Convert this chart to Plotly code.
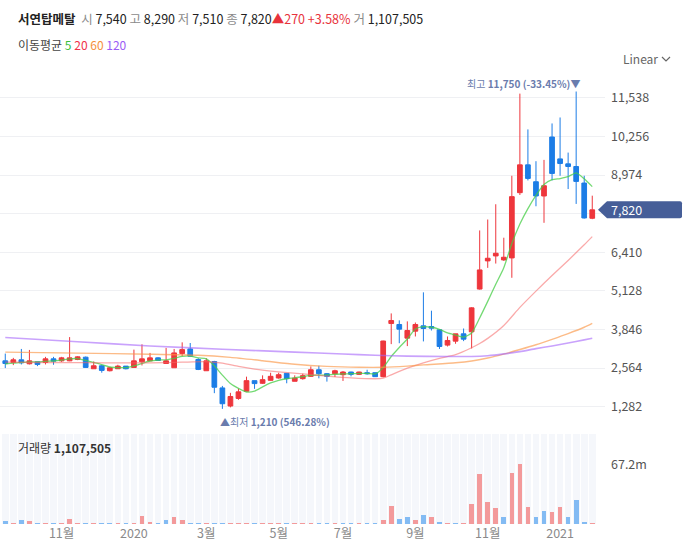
import pandas as pd
import plotly.graph_objects as go

# ---------------- data ----------------
start_date = "2019-09-13"
n_weeks = 74

opens = [2805, 2750, 2838, 2707, 2772, 2750, 2871, 2805, 2805, 2849,
         2926, 2542, 2641, 2476, 2542, 2630, 2586, 2772, 2805, 2904,
         2717, 2575, 3046, 3200, 2849, 2476, 2783, 1906, 1304, 1556,
         1797, 2147, 2060, 2158, 2235, 2389, 2126, 2213, 2290, 2509,
         2378, 2378, 2345, 2433, 2356, 2411, 2411, 2279, 4044, 4012,
         3559, 3791, 3968, 3945, 3835, 3327, 3459, 3702, 3769, 5189,
         6124, 6289, 6157, 6223, 8390, 9314, 8753, 8280, 10238, 9512,
         9347, 9259, 8709, 7540]
highs = [3046, 2904, 3200, 3167, 2772, 2937, 2937, 2937, 3594, 2959,
         2948, 2783, 2674, 2608, 2674, 2630, 3178, 3353, 3068, 2926,
         3233, 3200, 3419, 3397, 2893, 2893, 2805, 1972, 1742, 1884,
         2279, 2147, 2323, 2410, 2410, 2389, 2323, 2378, 2619, 2641,
         2400, 2509, 2465, 2444, 2444, 2509, 2421, 3474, 4380, 4150,
         4115, 4078, 5080, 4470, 3857, 3614, 3702, 3879, 4586, 7136,
         7499, 8005, 6894, 8951, 11680, 10491, 9435, 9479, 10689, 10887,
         9721, 11750, 8951, 8290]
lows = [2564, 2663, 2685, 2685, 2630, 2685, 2674, 2772, 2794, 2827,
        2575, 2542, 2411, 2454, 2542, 2520, 2586, 2652, 2805, 2805,
        2717, 2575, 2959, 2959, 2498, 2476, 1731, 1210, 1260, 1512,
        1797, 1874, 2038, 2147, 2213, 2060, 2126, 2180, 2268, 2224,
        2115, 2268, 2137, 2290, 2334, 2345, 2268, 2257, 3360, 3390,
        3295, 3614, 3450, 3813, 3200, 3282, 3371, 3459, 3216, 5170,
        5893, 6036, 6124, 5563, 8313, 8797, 7939, 7389, 8797, 8951,
        8511, 8016, 7530, 7510]
closes = [2717, 2838, 2739, 2805, 2685, 2871, 2794, 2904, 2904, 2937,
          2586, 2641, 2487, 2575, 2630, 2542, 2805, 2871, 2904, 2816,
          2805, 3068, 3178, 2959, 2520, 2805, 1928, 1380, 1621, 1775,
          2147, 2049, 2180, 2290, 2345, 2213, 2235, 2312, 2509, 2378,
          2290, 2476, 2433, 2356, 2433, 2378, 2279, 3463, 4144, 3857,
          3813, 4012, 3879, 3890, 3282, 3481, 3702, 3525, 4564, 5824,
          6212, 6377, 6245, 8258, 9314, 8863, 8280, 8621, 9028, 9358,
          9259, 8764, 7550, 7820]

# weekly volume, millions of shares
volumes_m = [3.4, 1.1, 4.5, 3.4, 0.3, 1.1, 0.3, 0.4, 5.6, 1.1,
             1.1, 0.3, 0.3, 0.3, 0.3, 0.3, 1.1, 9.0, 2.3, 0.4,
             4.5, 7.9, 4.5, 1.1, 1.1, 0.5, 1.1, 1.1, 1.1, 1.1,
             1.1, 0.4, 0.4, 1.1, 0.4, 0.4, 0.3, 0.3, 1.1, 0.3,
             0.3, 0.3, 1.1, 0.3, 0.3, 0.3, 0.3, 4.5, 19.9, 5.6,
             7.9, 4.5, 10.1, 7.5, 2.3, 0.3, 0.8, 0.8, 22.5, 56.3,
             24.8, 18.0, 7.9, 57.4, 67.2, 19.1, 7.9, 14.6, 13.5, 19.1,
             7.9, 27.0, 2.3, 1.107505]
# u = up vs previous close (red), d = down (blue)
volume_dir = ("dudududuuu" "dudduduuud" "duuddudduu"
              "uduuuduuud" "duddudduud" "dudududuuu"
              "uuduuudduu" "dddu")

# moving averages (candle index -> value)
ma5_vals = [2700, 2730, 2750, 2770, 2770, 2790, 2800, 2830, 2870, 2880,
            2820, 2750, 2680, 2600, 2580, 2580, 2640, 2720, 2800, 2830,
            2840, 2890, 2950, 2965, 2900, 2870, 2640, 2330, 2050, 1890,
            1770, 1800, 1940, 2070, 2160, 2210, 2240, 2280, 2320, 2330,
            2340, 2360, 2370, 2380, 2390, 2390, 2370, 2580, 2950, 3250,
            3530, 3860, 3940, 3920, 3850, 3730, 3660, 3590, 3730, 4230,
            4780, 5350, 5900, 6700, 7350, 7860, 8300, 8660, 8820, 8860,
            8920, 9050, 8850, 8590]
ma20_idx = [0, 5, 10, 15, 18, 22, 25, 27, 29, 31, 34, 37, 40, 43, 46, 47,
            48, 50, 52, 54, 56, 58, 59, 60, 62, 64, 66, 68, 70, 72, 73]
ma20_vals = [2760, 2750, 2745, 2735, 2735, 2760, 2775, 2730, 2620, 2530,
             2440, 2370, 2300, 2240, 2210, 2230, 2340, 2560, 2740, 2890,
             3010, 3240, 3380, 3550, 3980, 4580, 5120, 5640, 6140, 6660, 6930]
ma60_idx = [0, 9, 18, 24, 28, 32, 36, 40, 44, 47, 50, 52, 56, 58, 60, 62,
            64, 66, 68, 70, 72, 73]
ma60_vals = [3095, 3060, 3025, 2990, 2920, 2810, 2690, 2620, 2590, 2590,
             2630, 2670, 2740, 2800, 2900, 3030, 3180, 3340, 3520, 3710,
             3920, 4050]
ma120_idx = [0, 9, 18, 27, 36, 42, 46, 50, 55, 58, 60, 62, 64, 66, 68, 70,
             72, 73]
ma120_vals = [3580, 3440, 3300, 3190, 3095, 3030, 2990, 2960, 2950, 2950,
              2975, 3035, 3110, 3210, 3300, 3400, 3500, 3554]

price_ticks = [1282, 2564, 3846, 5128, 6410, 7692, 8974, 10256, 11538]
x_tick_idx = [7, 16, 25, 34, 42, 51, 60, 69]
x_tick_text = ["11월", "2020", "3월", "5월", "7월", "9월", "11월", "2021"]
vol_tick = 67.2

stock_name = "서연탑메탈"

# ---------------- styling ----------------
FONT = "Noto Sans CJK KR, Noto Sans, sans-serif"
RED = "#ee363c"
BLUE = "#1c7de6"
VRED = "#f39a9b"
VBLUE = "#83bbf3"
W, H = 692, 553
ML, MR, MT, MB = 0, 87, 70, 29
PW, PH = W - ML - MR, H - MT - MB
PRICE_RANGE = [508, 12464]
VOL_MAX = 101.3


def px(x):
    return (x - ML) / PW


def py(y):
    return (H - MB - y) / PH


dates = pd.date_range(start_date, periods=n_weeks, freq="7D")
week_ms = 7 * 24 * 3600 * 1000

fig = go.Figure()

# volume background stripes
fig.add_trace(go.Bar(x=dates, y=[VOL_MAX] * n_weeks, width=week_ms * 0.83,
                     marker=dict(color="#f5f7fb", line=dict(width=0)),
                     yaxis="y2", hoverinfo="skip", showlegend=False))
# volume bars
fig.add_trace(go.Bar(x=dates, y=volumes_m, width=week_ms * 0.58,
                     marker=dict(color=[VRED if c == "u" else VBLUE for c in volume_dir],
                                 line=dict(width=0)),
                     yaxis="y2", hoverinfo="skip", showlegend=False))

# candles
fig.add_trace(go.Candlestick(
    x=dates, open=opens, high=highs, low=lows, close=closes,
    increasing=dict(line=dict(color=RED, width=1), fillcolor=RED),
    decreasing=dict(line=dict(color=BLUE, width=1), fillcolor=BLUE),
    whiskerwidth=0, yaxis="y", hoverinfo="skip", showlegend=False))

# moving averages
ma_specs = [
    (list(range(n_weeks)), ma5_vals, "rgba(70,205,70,0.75)", 1.3),
    (ma20_idx, ma20_vals, "rgba(245,100,100,0.55)", 1.3),
    (ma60_idx, ma60_vals, "rgba(250,150,70,0.65)", 1.4),
    (ma120_idx, ma120_vals, "rgba(165,100,250,0.6)", 1.6),
]
for idx, vals, col, w in ma_specs:
    fig.add_trace(go.Scatter(x=[dates[i] for i in idx], y=vals, mode="lines",
                             line=dict(color=col, width=w, shape="spline", smoothing=0.6),
                             yaxis="y", hoverinfo="skip", showlegend=False))

price_dom_bottom = py(430)
vol_dom_top = py(434)

fig.update_layout(
    width=W, height=H,
    margin=dict(l=ML, r=MR, t=MT, b=MB),
    paper_bgcolor="white", plot_bgcolor="white",
    font=dict(family=FONT, size=12, color="#444"),
    barmode="overlay", bargap=0,
    boxgap=0.25, boxgroupgap=0.22,
    showlegend=False,
    xaxis=dict(
        type="date", anchor="y2",
        range=[dates[0] - pd.Timedelta(days=4.6), dates[-1] + pd.Timedelta(days=11.1)],
        tickvals=[dates[i] for i in x_tick_idx], ticktext=x_tick_text,
        showgrid=False, zeroline=False, showline=False, ticks="",
        tickfont=dict(size=12.5, color="#8a8a8a"),
        rangeslider=dict(visible=False), fixedrange=True,
    ),
    yaxis=dict(
        domain=[price_dom_bottom, 1], range=PRICE_RANGE, side="right",
        anchor="x", tickvals=price_ticks,
        ticktext=[("" if v == 7692 else f"{v:,}") for v in price_ticks],
        showgrid=True, gridcolor="#eff0f3", gridwidth=1,
        zeroline=False, showline=False, ticks="",
        tickfont=dict(size=12.5, color="#555"), ticklabelstandoff=5,
    ),
    yaxis2=dict(
        domain=[0, vol_dom_top], range=[0, VOL_MAX], side="right", anchor="x",
        tickvals=[vol_tick], ticktext=[f"{vol_tick}m"],
        showgrid=False, zeroline=False, showline=False, ticks="",
        tickfont=dict(size=12.5, color="#555"), ticklabelstandoff=5,
    ),
)

last = n_weeks - 1
hi_i = max(range(n_weeks), key=lambda i: highs[i])
lo_i = min(range(n_weeks), key=lambda i: lows[i])
hi_pct = (closes[last] / highs[hi_i] - 1) * 100
lo_pct = (closes[last] / lows[lo_i] - 1) * 100
chg = closes[last] - closes[last - 1]
chg_pct = chg / closes[last - 1] * 100

# current price tag
fig.add_shape(type="path", xref="paper", yref="y", xsizemode="pixel", ysizemode="pixel",
              xanchor=1, yanchor=closes[last],
              path="M -7,0 L 2,8.5 L 75,8.5 Q 77,8.5 77,6.5 L 77,-6.5 Q 77,-8.5 75,-8.5 L 2,-8.5 Z",
              fillcolor="#465e98", line=dict(width=0), layer="above")
fig.add_annotation(xref="paper", yref="y", x=1, y=closes[last], xanchor="left", yanchor="middle",
                   xshift=4, text=f"{closes[last]:,}", showarrow=False,
                   font=dict(size=12.5, color="white"))

# high / low markers
fig.add_annotation(x=dates[hi_i], y=highs[hi_i], xref="x", yref="y", xanchor="right",
                   yanchor="bottom", xshift=6, yshift=-1, showarrow=False,
                   text=f"최고 <b>{highs[hi_i]:,} ({hi_pct:.2f}%)</b>▼",
                   font=dict(size=10, color="#6a7cad"))
fig.add_annotation(x=dates[lo_i], y=lows[lo_i], xref="x", yref="y", xanchor="left",
                   yanchor="top", xshift=-4, yshift=-3, showarrow=False,
                   text=f"▲최저 <b>{lows[lo_i]:,} ({lo_pct:.2f}%)</b>",
                   font=dict(size=10, color="#6a7cad"))

# header
G = "#8a8a8a"
header = (f"<b>{stock_name}</b>  "
          f"<span style='color:{G}'>시</span> {opens[last]:,} "
          f"<span style='color:{G}'>고</span> {highs[last]:,} "
          f"<span style='color:{G}'>저</span> {lows[last]:,} "
          f"<span style='color:{G}'>종</span> {closes[last]:,}"
          f"<span style='color:#e8333c'>▲{chg:,} +{chg_pct:.2f}%</span> "
          f"<span style='color:{G}'>거</span> {round(volumes_m[last] * 1e6):,}")
fig.add_annotation(xref="paper", yref="paper", x=px(16), y=py(18), xanchor="left",
                   yanchor="middle", text=header, showarrow=False,
                   font=dict(size=12.5, color="#222"))
legend_txt = ("이동평균 <span style='color:#3cbf3c'>5</span> "
              "<span style='color:#f0324b'>20</span> "
              "<span style='color:#f5913c'>60</span> "
              "<span style='color:#9b5cf5'>120</span>")
fig.add_annotation(xref="paper", yref="paper", x=px(16), y=py(44), xanchor="left",
                   yanchor="middle", text=legend_txt, showarrow=False,
                   font=dict(size=12, color="#444"))
fig.add_annotation(xref="paper", yref="paper", x=px(621), y=py(59), xanchor="left",
                   yanchor="middle", text="Linear", showarrow=False,
                   font=dict(size=12, color="#666"))
fig.add_shape(type="path", xref="paper", yref="paper", xsizemode="pixel", ysizemode="pixel",
              xanchor=px(666), yanchor=py(59), path="M -4,2 L 0,-2 L 4,2",
              line=dict(color="#666", width=1.2))
fig.add_annotation(xref="paper", yref="paper", x=px(16), y=py(447), xanchor="left",
                   yanchor="middle",
                   text=f"거래량 <b>{round(volumes_m[last] * 1e6):,}</b>",
                   showarrow=False, font=dict(size=12, color="#333"))

fig.write_html("out.html")
